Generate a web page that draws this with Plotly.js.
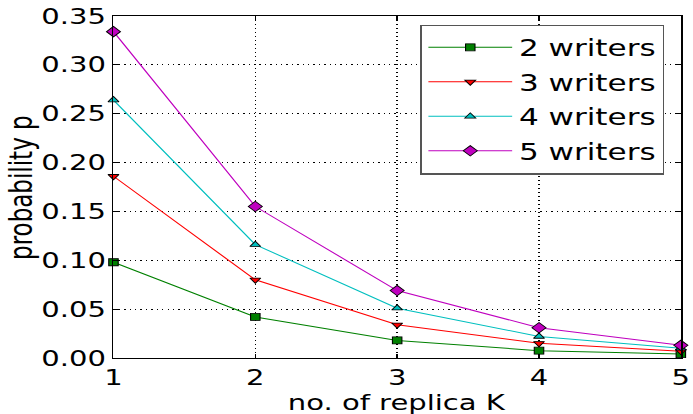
<!DOCTYPE html>
<html><head><meta charset="utf-8">
<script src="https://cdn.plot.ly/plotly-3.0.1.min.js"></script>
<style>
html,body{margin:0;padding:0;overflow:hidden;background:#fff}
#wrap{width:693px;height:414px;overflow:hidden;position:relative}
#chart{width:513px;height:414px;transform:scaleX(1.3509);transform-origin:0 0;position:absolute;left:0;top:0}
</style>
</head><body><div id="wrap"><div id="chart"></div></div>
<script>
const replicaK = [1, 2, 3, 4, 5];
const writers2 = [0.098, 0.042, 0.018, 0.0075, 0.004];
const writers3 = [0.186, 0.080, 0.034, 0.015, 0.007];
const writers4 = [0.264, 0.116, 0.051, 0.022, 0.010];
const writers5 = [0.334, 0.155, 0.069, 0.031, 0.013];
const seriesNames = ['2 writers', '3 writers', '4 writers', '5 writers'];
const yTicks = [0, 0.05, 0.10, 0.15, 0.20, 0.25, 0.30, 0.35];
const xTitle = 'no. of replica K';
const yTitle = 'probability p';

const FONT = 'DejaVu Sans, Liberation Sans, sans-serif';
const styles = [
  {color: '#008000', symbol: 'square', size: 7},
  {color: '#ff0000', symbol: 'triangle-down', size: 7},
  {color: '#00bfbf', symbol: 'triangle-up', size: 7},
  {color: '#bf00bf', symbol: 'diamond', size: 8}
];
const allY = [writers2, writers3, writers4, writers5];
const traces = allY.map((ys, i) => ({
  x: replicaK, y: ys, name: seriesNames[i], type: 'scatter', mode: 'lines+markers',
  legendgroup: 'g' + i,
  line: {color: styles[i].color, width: 1},
  marker: {symbol: styles[i].symbol, size: styles[i].size, color: styles[i].color,
           line: {color: '#000', width: 0.8}},
  cliponaxis: false
}));

const axisCommon = {
  showline: true, linecolor: '#000', linewidth: 1.3, mirror: 'ticks',
  ticks: 'inside', ticklen: 4, tickcolor: '#000', tickwidth: 1,
  showgrid: true, gridcolor: '#000', gridwidth: 1, griddash: '1px,3px',
  zeroline: false,
  tickfont: {family: FONT, size: 21.5, color: '#000'}
};

const layout = {
  width: 513, height: 414,
  margin: {l: 84, r: 9, t: 16, b: 56, pad: 0},
  paper_bgcolor: '#fff', plot_bgcolor: '#fff',
  showlegend: true,
  xaxis: Object.assign({}, axisCommon, {range: [1, 5], tickvals: replicaK, ticktext: replicaK.map(String)}),
  yaxis: Object.assign({}, axisCommon, {range: [0, 0.35], tickvals: yTicks, tickformat: '.2f'}),
  legend: {
    x: 0.971, y: 0.975, xanchor: 'right', yanchor: 'top',
    bgcolor: '#fff', bordercolor: '#555', borderwidth: 1.3,
    font: {family: FONT, size: 23, color: '#000'},
    itemwidth: 62, tracegroupgap: 1.6
  },
  annotations: [
    {text: xTitle, xref: 'paper', yref: 'paper', x: 0.5, y: -0.131, xanchor: 'center', yanchor: 'middle',
     showarrow: false, font: {family: FONT, size: 21.5, color: '#000'}},
    {text: yTitle, xref: 'paper', yref: 'paper', x: -0.162, y: 0.5, xanchor: 'center', yanchor: 'middle',
     textangle: -90, showarrow: false, font: {family: FONT, size: 23, color: '#000'}}
  ]
};

Plotly.newPlot('chart', traces, layout, {displayModeBar: false, staticPlot: true});
</script>
</body></html>
